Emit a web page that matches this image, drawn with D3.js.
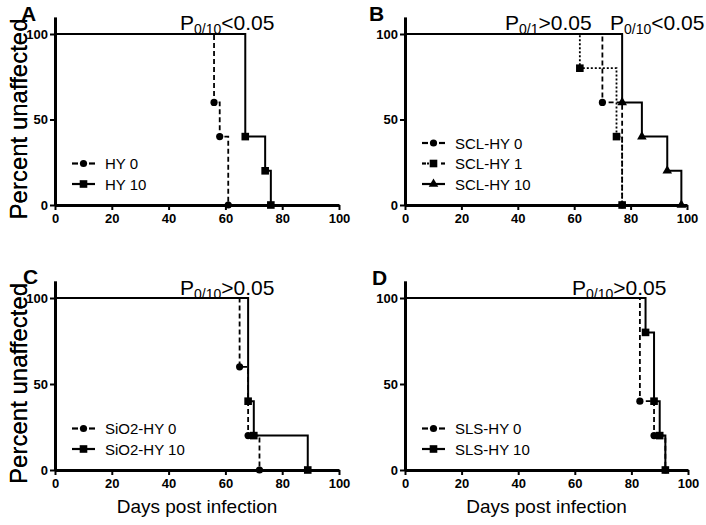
<!DOCTYPE html>
<html>
<head>
<meta charset="utf-8">
<script src="https://cdn.jsdelivr.net/npm/d3@7"></script>
<style>
  html, body { margin: 0; padding: 0; background: #fff; }
  svg { display: block; font-family: "Liberation Sans", Arial, sans-serif; }
</style>
</head>
<body>
<svg id="chart" width="706" height="525"></svg>
<script>
// ---------- data ----------
const xTicks = [0, 20, 40, 60, 80, 100];
const yTicks = [0, 50, 100];
const panelLetters = ["A", "B", "C", "D"];
const xAxisTitle = "Days post infection";
const yAxisTitle = "Percent unaffected";

// Panel A
const hy0Days = [56, 58, 61];
const hy0Pct = [60, 40, 0];
const hy10Days = [67, 74, 76];
const hy10Pct = [40, 20, 0];
// Panel B
const sclHy0Days = [70, 77];
const sclHy0Pct = [60, 0];
const sclHy1Days = [62, 75, 77];
const sclHy1Pct = [80, 40, 0];
const sclHy10Days = [77, 84, 93, 98];
const sclHy10Pct = [60, 40, 20, 0];
// Panel C
const sio2Hy0Days = [65, 68, 72];
const sio2Hy0Pct = [60, 20, 0];
const sio2Hy10Days = [68, 70, 89];
const sio2Hy10Pct = [40, 20, 0];
// Panel D
const slsHy0Days = [83, 88, 92];
const slsHy0Pct = [40, 20, 0];
const slsHy10Days = [85, 88, 90, 92];
const slsHy10Pct = [80, 40, 20, 0];

// series names
const seriesA = ["HY 0", "HY 10"];
const seriesB = ["SCL-HY 0", "SCL-HY 1", "SCL-HY 10"];
const seriesC = ["SiO2-HY 0", "SiO2-HY 10"];
const seriesD = ["SLS-HY 0", "SLS-HY 10"];

// p-value annotations: [subscript, rest]
const pA = [["0/10", "<0.05"]];
const pB = [["0/1", ">0.05"], ["0/10", "<0.05"]];
const pC = [["0/10", ">0.05"]];
const pD = [["0/10", ">0.05"]];

// ---------- layout & styles ----------
const styles = {
  dashed: { dash: "5,3", width: 1.8 },
  dotted: { dash: "2,2", width: 1.8 },
  solid: { dash: null, width: 2 }
};

const panels = [
  { letter: panelLetters[0], x0: 55, x1: 339, yb: 205, y100: 34, letterPos: [21, 21],
    series: [
      { name: seriesA[0], days: hy0Days, pct: hy0Pct, style: "dashed", marker: "circle" },
      { name: seriesA[1], days: hy10Days, pct: hy10Pct, style: "solid", marker: "square" }
    ],
    p: pA, pX: [180], showX: false },
  { letter: panelLetters[1], x0: 405, x1: 687, yb: 205, y100: 34, letterPos: [369, 21],
    series: [
      { name: seriesB[0], days: sclHy0Days, pct: sclHy0Pct, style: "dashed", marker: "circle" },
      { name: seriesB[1], days: sclHy1Days, pct: sclHy1Pct, style: "dotted", marker: "square" },
      { name: seriesB[2], days: sclHy10Days, pct: sclHy10Pct, style: "solid", marker: "triangle" }
    ],
    p: pB, pX: [505, 610], showX: false },
  { letter: panelLetters[2], x0: 55, x1: 339, yb: 470, y100: 298, letterPos: [23, 284],
    series: [
      { name: seriesC[0], days: sio2Hy0Days, pct: sio2Hy0Pct, style: "dashed", marker: "circle" },
      { name: seriesC[1], days: sio2Hy10Days, pct: sio2Hy10Pct, style: "solid", marker: "square" }
    ],
    p: pC, pX: [180], showX: true },
  { letter: panelLetters[3], x0: 405, x1: 688, yb: 470, y100: 298, letterPos: [372, 285],
    series: [
      { name: seriesD[0], days: slsHy0Days, pct: slsHy0Pct, style: "dashed", marker: "circle" },
      { name: seriesD[1], days: slsHy10Days, pct: slsHy10Pct, style: "solid", marker: "square" }
    ],
    p: pD, pX: [572], showX: true }
];

const svg = d3.select("#chart");

function drawMarker(g, type, cx, cy) {
  if (type === "circle") {
    g.append("circle").attr("cx", cx).attr("cy", cy).attr("r", 3.6).attr("fill", "#000");
  } else if (type === "square") {
    g.append("rect").attr("x", cx - 3.8).attr("y", cy - 3.8).attr("width", 7.6).attr("height", 7.6).attr("fill", "#000");
  } else {
    g.append("path").attr("d", d3.symbol(d3.symbolTriangle, 40)()).attr("transform", `translate(${cx},${cy})`).attr("fill", "#000");
  }
}

panels.forEach((p, pi) => {
  const g = svg.append("g");
  const x = d3.scaleLinear().domain([0, 100]).range([p.x0, p.x1]);
  const unit = (p.yb - p.y100) / 100;
  const y = d3.scaleLinear().domain([0, 110]).range([p.yb, p.yb - 110 * unit]);

  // series lines (non-solid first, solid on top)
  const order = p.series.slice().sort((a, b) => (a.style === "solid") - (b.style === "solid"));
  const line = d3.line().x(d => x(d[0])).y(d => y(d[1])).curve(d3.curveStepAfter);
  order.forEach(s => {
    const pts = [[0, 100]].concat(s.days.map((d, i) => [d, s.pct[i]]));
    const st = styles[s.style];
    g.append("path").attr("d", line(pts)).attr("fill", "none").attr("stroke", "#000")
      .attr("stroke-width", st.width).attr("stroke-dasharray", st.dash);
  });
  order.forEach(s => {
    s.days.forEach((d, i) => drawMarker(g, s.marker, x(d), y(s.pct[i])));
  });

  // axes
  const xa = d3.axisBottom(x).tickValues(xTicks).tickSize(5).tickSizeOuter(0).tickPadding(4);
  const ya = d3.axisLeft(y).tickValues(yTicks).tickSize(5).tickSizeOuter(0).tickPadding(2);
  const gx = g.append("g").attr("transform", `translate(0,${p.yb})`).call(xa);
  const gy = g.append("g").attr("transform", `translate(${p.x0},0)`).call(ya);
  [gx, gy].forEach(ax => {
    ax.select(".domain").attr("stroke", "#000").attr("stroke-width", 3);
    ax.selectAll(".tick line").attr("stroke", "#000").attr("stroke-width", 2);
    ax.selectAll(".tick text").attr("fill", "#000").attr("font-size", 13).attr("font-weight", "bold")
      .attr("font-family", "'Liberation Sans', Arial, sans-serif");
  });

  // panel letter
  g.append("text").attr("x", p.letterPos[0]).attr("y", p.letterPos[1]).text(p.letter)
    .attr("font-size", 21).attr("font-weight", "bold");

  // y axis title
  g.append("text").attr("transform", `translate(27,${(p.yb + y(110)) / 2 + 8}) rotate(-90)`)
    .attr("text-anchor", "middle").attr("font-size", 24).text(yAxisTitle);

  // x axis title
  if (p.showX) {
    g.append("text").attr("x", (p.x0 + p.x1) / 2).attr("y", p.yb + 43)
      .attr("text-anchor", "middle").attr("font-size", 19).text(xAxisTitle);
  }

  // p values
  p.p.forEach((pv, k) => {
    const t = g.append("text").attr("x", p.pX[k]).attr("y", p.yb - 175).attr("font-size", 21);
    t.append("tspan").text("P");
    t.append("tspan").attr("font-size", 14).attr("dy", 4).text(pv[0]);
    t.append("tspan").attr("dy", -4).text(pv[1]);
  });

  // legend
  const n = p.series.length;
  p.series.forEach((s, i) => {
    const ly = p.yb - 21 - (n - 1 - i) * 20.5;
    const lx0 = p.x0 + 17, lx1 = p.x0 + 40;
    const st = styles[s.style];
    if (s.style === "solid") {
      g.append("line").attr("x1", lx0).attr("x2", lx1).attr("y1", ly).attr("y2", ly)
        .attr("stroke", "#000").attr("stroke-width", 2.2);
    } else {
      const dl = s.style === "dashed" ? 6 : 4;
      g.append("line").attr("x1", lx0).attr("x2", lx0 + dl).attr("y1", ly).attr("y2", ly)
        .attr("stroke", "#000").attr("stroke-width", 2.2);
      g.append("line").attr("x1", lx1 - dl).attr("x2", lx1).attr("y1", ly).attr("y2", ly)
        .attr("stroke", "#000").attr("stroke-width", 2.2);
      if (s.style === "dotted") {
        g.append("line").attr("x1", lx0 + 5).attr("x2", lx0 + 7).attr("y1", ly).attr("y2", ly)
          .attr("stroke", "#000").attr("stroke-width", 2.2);
      }
    }
    drawMarker(g, s.marker, (lx0 + lx1) / 2, ly);
    g.append("text").attr("x", p.x0 + 50).attr("y", ly + 5.5).attr("font-size", 15).text(s.name);
  });
});
</script>
</body>
</html>
